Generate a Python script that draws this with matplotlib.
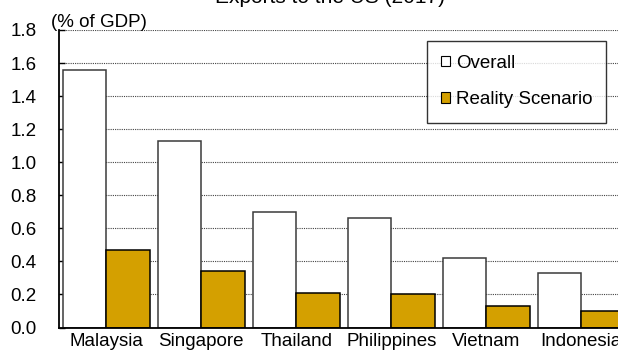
import numpy as np
import matplotlib
matplotlib.use("Agg")
import matplotlib.pyplot as plt
from matplotlib.patches import Patch

plt.rcParams['font.family'] = ['Liberation Sans', 'DejaVu Sans']

countries = ['Malaysia', 'Singapore', 'Thailand', 'Philippines', 'Vietnam', 'Indonesia']
overall = [1.56, 1.13, 0.70, 0.66, 0.42, 0.33]
reality = [0.47, 0.34, 0.21, 0.20, 0.13, 0.10]
yticks = [0.0, 0.2, 0.4, 0.6, 0.8, 1.0, 1.2, 1.4, 1.6, 1.8]

gold = '#d4a000'
fs = 13.5

fig = plt.figure(figsize=(6.18, 3.53), dpi=100)
# plot area runs past the right edge, as in the source slide
ax = fig.add_axes([58.7 / 618, 25.5 / 353, 570 / 618, 297.5 / 353])

x = np.arange(len(countries))
w = 0.458
ax.bar(x - w / 2, overall, w, color='white', edgecolor='#3a3a3a', linewidth=1.1, zorder=2)
ax.bar(x + w / 2, reality, w, color=gold, edgecolor='black', linewidth=1.1, zorder=2)

ax.set_xlim(-0.5, len(countries) - 0.5)
ax.set_ylim(0, 1.8)
ax.set_yticks(yticks)
ax.set_yticklabels(['%.1f' % t for t in yticks], fontsize=fs)
ax.set_xticks(x)
ax.set_xticklabels(countries, fontsize=fs)
ax.tick_params(axis='y', direction='in', length=4, width=1, pad=16)
ax.tick_params(axis='x', length=0, pad=4)

ax.yaxis.grid(True, color='#444444', linestyle=(0, (1, 1)), linewidth=0.8, zorder=0)
ax.set_axisbelow(True)
for s in ['top', 'right']:
    ax.spines[s].set_visible(False)
for s in ['left', 'bottom']:
    ax.spines[s].set_linewidth(1.3)
    ax.spines[s].set_color('black')
    ax.spines[s].set_zorder(3)

fig.text(51 / 618, (353 - 27) / 353, '(% of GDP)', fontsize=fs, ha='left', va='baseline')
fig.text(330 / 618, (353 - 3) / 353, 'Exports to the US (2017)', fontsize=15, ha='center', va='baseline')

handles = [Patch(facecolor='white', edgecolor='black', linewidth=0.8, label='Overall'),
           Patch(facecolor=gold, edgecolor='black', linewidth=0.8, label='Reality Scenario')]
leg = ax.legend(handles=handles, loc='upper left', bbox_to_anchor=(426.7 / 618, (353 - 40.7) / 353),
                bbox_transform=fig.transFigure, fontsize=fs, frameon=True, fancybox=False,
                handlelength=0.5, handleheight=0.5, handletextpad=0.3, labelspacing=1.05,
                borderpad=0.75, borderaxespad=0)
leg.get_frame().set_edgecolor('black')
leg.get_frame().set_linewidth(1.0)

fig.savefig('out.png', dpi=100)
